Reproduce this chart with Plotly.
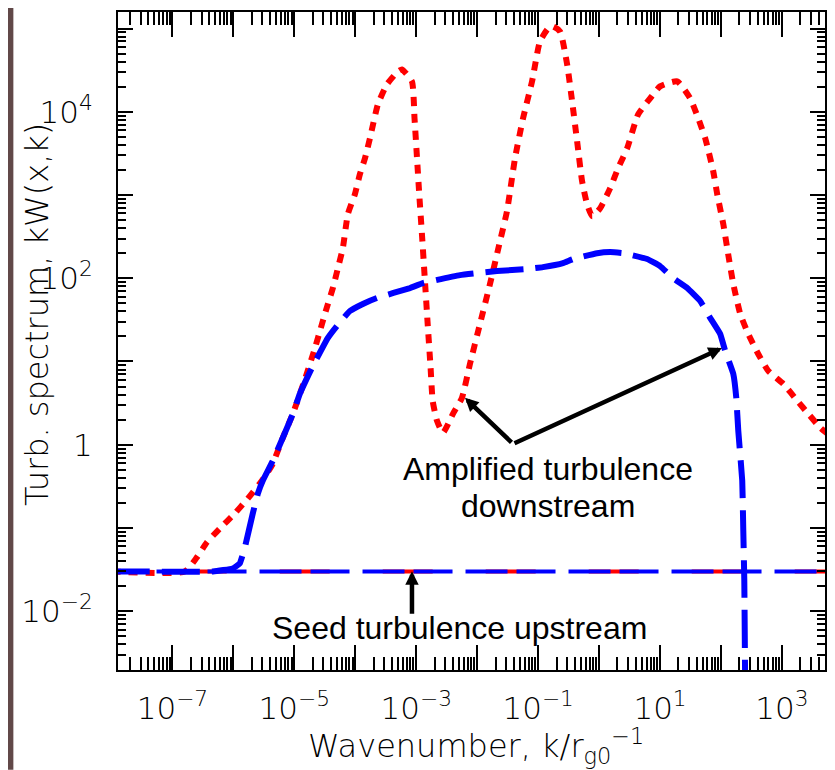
import plotly.graph_objects as go

# ---------------- data ----------------
# red dotted curve: amplified turbulence spectrum (case 1)
k_red = [1.0e-8, 1.59e-7, 2.51e-7, 3.66e-7, 5.98e-7, 1.05e-6, 1.72e-6, 2.71e-6,
         4.27e-6, 6.47e-6, 9.45e-6, 1.50e-5, 2.11e-5, 2.84e-5, 3.55e-5, 4.28e-5,
         5.18e-5, 6.25e-5, 7.55e-5, 9.84e-5, 1.19e-4, 1.44e-4, 1.74e-4, 2.35e-4,
         3.30e-4, 5.00e-4, 5.82e-4, 8.49e-4, 9.37e-4, 1.03e-3, 1.12e-3, 1.24e-3,
         1.38e-3, 1.54e-3, 1.72e-3, 1.86e-3, 2.19e-3, 2.74e-3, 4.00e-3, 5.62e-3,
         7.61e-3, 0.0111, 0.0162, 0.0237, 0.0308, 0.0417, 0.0565, 0.0794, 0.107,
         0.145, 0.176, 0.229, 0.299, 0.361, 0.436, 0.526, 0.635, 0.768, 1.04,
         1.52, 2.05, 2.88, 4.37, 6.87, 10.0, 19.1, 31.2, 42.3, 55.1, 74.5, 86.7,
         109, 131, 159, 207, 280, 408, 596, 1051, 1784, 2704, 4256, 6000]
W_red = [0.03, 0.03, 0.0442, 0.0668, 0.0984, 0.149, 0.225, 0.341,
         0.560, 1.21, 2.35, 6.19, 13.4, 28.2, 49, 76,
         132, 230, 589, 1020, 1780, 2760, 4800, 12300,
         21300, 30500, 32300, 23200, 8340, 2760, 1020, 339,
         100, 28.2, 8.38, 3.37, 1.94, 1.39, 2.35, 3.66,
         9.36, 28.2, 85.2, 279, 640, 2760, 8340, 23200, 69900,
         100000, 106000, 92000, 37000, 13300, 4420, 1460, 776, 557, 695,
         1210, 2100, 3640, 9310, 14500, 20200, 23200, 14500, 8340, 4800, 1930, 1020,
         447, 195, 85.2, 37.2, 21.4, 12.3, 7.71, 5.39, 3.37, 2.35, 1.60, 1.30]

# blue dashed curve: amplified turbulence spectrum (case 2)
k_blue = [1.0e-8, 4.62e-7, 9.77e-7, 1.27e-6, 1.54e-6, 2.08e-6, 2.52e-6, 3.04e-6,
          4.44e-6, 6.47e-6, 9.45e-6, 1.23e-5, 1.94e-5, 3.55e-5, 4.99e-5, 8.15e-5,
          1.33e-4, 2.26e-4, 7.89e-4, 1.29e-3, 5.22e-3, 0.0211, 0.0657, 0.120,
          0.256, 0.374, 0.927, 1.52, 2.48, 6.14, 10.0, 16.4, 27.9, 45.5, 66.5,
          97.0, 117, 159, 178, 192, 223, 232, 241, 250]
W_blue = [0.03, 0.03, 0.0326, 0.0374, 0.0582, 0.149, 0.258, 0.370,
          0.643, 1.21, 2.35, 4.09, 8.38, 19.2, 26.7, 40.4,
          49.1, 57.9, 76.3, 87.5, 109, 122, 129, 136,
          152, 170, 200, 206, 200, 170, 140, 100, 76.3, 53.3, 33.3,
          21.4, 13.4, 7.10, 3.66, 1.47, 0.370, 0.093, 0.0234, 8.5e-4]

# seed turbulence upstream (flat level)
k_seed_blue = [1.12e-9, 1.0e4]
k_seed_red = [2.4e-9, 1.0e4]
W_seed = [0.03, 0.03]

# axis ticks
x_major = [10.0 ** e for e in range(-8, 4)]
x_labels = ["" if e % 2 == 0 else "10<sup>\u2212%d</sup>" % (-e) if e < 0 else "10<sup>%d</sup>" % e
            for e in range(-8, 4)]
x_minor = [m * 10.0 ** e for e in range(-9, 4) for m in range(2, 10)]
y_major = [10.0 ** e for e in range(-3, 6)]
y_label_map = {-2: "10<sup>\u22122</sup>", 0: "1", 2: "10<sup>2</sup>", 4: "10<sup>4</sup>"}
y_labels = [y_label_map.get(e, "") for e in range(-3, 6)]
y_minor = [m * 10.0 ** e for e in range(-3, 6) for m in range(2, 10)]

# ---------------- figure ----------------
fig = go.Figure()

fig.add_trace(go.Scatter(x=k_seed_red, y=W_seed, mode="lines",
                         line=dict(color="#ff0000", width=4, dash="50px,53px"),
                         showlegend=False, hoverinfo="skip"))
fig.add_trace(go.Scatter(x=k_seed_blue, y=W_seed, mode="lines",
                         line=dict(color="#0000ff", width=4, dash="42px,9px,39px,13px"),
                         showlegend=False, hoverinfo="skip"))
fig.add_trace(go.Scatter(x=k_red, y=W_red, mode="lines",
                         line=dict(color="#ff0000", width=6, dash="9px,8px",
                                   shape="spline", smoothing=0.5),
                         showlegend=False))
fig.add_trace(go.Scatter(x=k_blue, y=W_blue, mode="lines",
                         line=dict(color="#0000ff", width=6, dash="38px,12px",
                                   shape="spline", smoothing=0.3),
                         showlegend=False))

tick_font = dict(family="DejaVu Sans", size=31, color="black", weight=200)
title_font = dict(family="DejaVu Sans", size=32, color="black", weight=200)
ann_font = dict(family="Liberation Sans, Arial", size=32, color="black")

fig.update_xaxes(type="log", range=[-7.893, 3.706],
                 tickmode="array", tickvals=x_major, ticktext=x_labels,
                 ticks="inside", ticklen=25, tickwidth=2, tickcolor="black",
                 minor=dict(tickmode="array", tickvals=x_minor, ticks="inside",
                            ticklen=13, tickwidth=1.5, tickcolor="black", showgrid=False),
                 showline=True, linewidth=2, linecolor="black", mirror="ticks",
                 showgrid=False, zeroline=False, tickfont=tick_font,
                 ticklabelstandoff=10)
fig.update_yaxes(type="log", range=[-2.707, 5.199],
                 tickmode="array", tickvals=y_major, ticktext=y_labels,
                 ticks="inside", ticklen=15, tickwidth=2, tickcolor="black",
                 minor=dict(tickmode="array", tickvals=y_minor, ticks="inside",
                            ticklen=8, tickwidth=1.5, tickcolor="black", showgrid=False),
                 showline=True, linewidth=2, linecolor="black", mirror="ticks",
                 showgrid=False, zeroline=False, tickfont=tick_font,
                 ticklabelstandoff=17)

annotations = [
    # axis titles
    dict(text="Wavenumber, k/r<sub>g0</sub><sup>\u22121</sup>", xref="paper", yref="paper",
         x=0.5064, y=-0.115, showarrow=False, font=title_font,
         xanchor="center", yanchor="middle"),
    dict(text="Turb. spectrum, kW(x,k)", xref="paper", yref="paper",
         x=-0.1146, y=0.541, showarrow=False, font=title_font, textangle=-90,
         xanchor="center", yanchor="middle"),
    # labels
    dict(text="Amplified turbulence", xref="paper", yref="paper", x=0.608, y=0.305,
         showarrow=False, font=ann_font, xanchor="center", yanchor="middle"),
    dict(text="downstream", xref="paper", yref="paper", x=0.608, y=0.249,
         showarrow=False, font=ann_font, xanchor="center", yanchor="middle"),
    dict(text="Seed turbulence upstream", xref="paper", yref="paper", x=0.4837, y=0.064,
         showarrow=False, font=ann_font, xanchor="center", yanchor="middle"),
    # arrows
    dict(text="", xref="paper", yref="paper", x=0.4158, y=0.150, ax=0, ay=44,
         showarrow=True, arrowhead=2, arrowsize=0.6, arrowwidth=4.5, arrowcolor="black",
         standoff=0),
    dict(text="", xref="paper", yref="paper", x=0.4908, y=0.4136, ax=48, ay=46,
         showarrow=True, arrowhead=2, arrowsize=0.6, arrowwidth=4.5, arrowcolor="black",
         standoff=0),
    dict(text="", xref="paper", yref="paper", x=0.8543, y=0.4894, ax=-209, ay=96,
         showarrow=True, arrowhead=2, arrowsize=0.6, arrowwidth=4.5, arrowcolor="black",
         standoff=0),
]

fig.update_layout(
    width=835, height=770, autosize=False,
    margin=dict(l=110, r=18, t=2, b=108),
    paper_bgcolor="white", plot_bgcolor="white",
    annotations=annotations,
    shapes=[dict(type="rect", xref="paper", yref="paper",
                 x0=-0.1669, x1=-0.148, y0=-0.1515, y1=1.0152,
                 fillcolor="#3a1a1a", line=dict(width=0), opacity=0.8, layer="below")],
)

fig.write_html("out.html")
